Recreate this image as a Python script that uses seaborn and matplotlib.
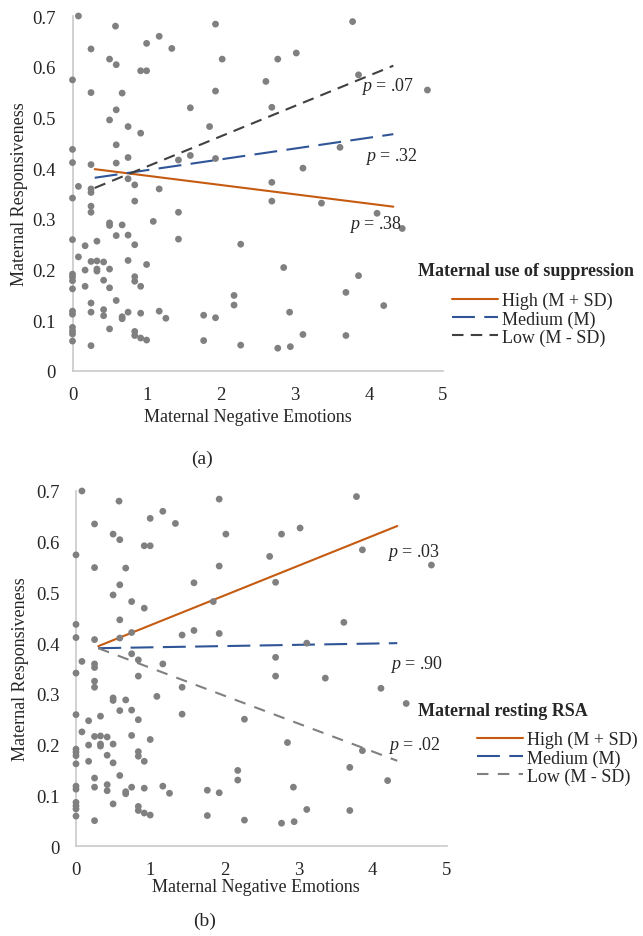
import pandas as pd
import matplotlib
matplotlib.use('Agg')
import matplotlib.pyplot as plt
import seaborn as sns

# observed data (same points in both panels)
neg_emotions = [
    0.08, 0.58, 0.25, 1.17, 1.00, 1.34, 0.50, 0.59, 0.92, 1.00,
    0.00, 0.25, 0.67, 1.59, 0.59, 0.50, 0.75, 0.92, 1.85, 0.59,
    0.00, 0.00, 0.25, 0.59, 0.75, 1.43, 1.59, 0.75, 0.84, 0.08,
    0.25, 0.25, 1.17, 0.00, 1.93, 2.02, 1.93, 3.78, 2.77, 3.02,
    2.61, 3.86, 4.79, 2.69, 1.93, 3.61, 3.11, 2.69, 2.69, 3.36,
    4.11, 4.45, 2.27, 2.85, 3.86, 2.18, 2.18, 3.69, 1.77, 1.93,
    2.93, 4.20, 1.77, 2.27, 2.77, 2.94, 3.11, 3.69, 0.84, 0.25,
    0.25, 1.43, 1.09, 0.50, 0.50, 0.67, 0.59, 0.75, 0.00, 1.43,
    0.33, 0.84, 0.17, 0.08, 0.25, 0.33, 0.42, 0.75, 1.00, 0.17,
    0.33, 0.33, 0.50, 0.00, 0.00, 0.00, 0.00, 0.84, 0.84, 0.42,
    0.92, 0.17, 0.50, 0.59, 0.25, 0.00, 0.00, 0.25, 0.42, 0.42,
    0.67, 0.67, 0.75, 0.92, 1.17, 1.26, 0.00, 0.00, 0.00, 0.00,
    0.50, 0.84, 0.84, 0.92, 1.00, 0.25,
]
responsiveness = [
    0.700, 0.680, 0.635, 0.660, 0.646, 0.636, 0.615, 0.604, 0.592, 0.592,
    0.574, 0.549, 0.548, 0.519, 0.515, 0.495, 0.482, 0.469, 0.482, 0.446,
    0.437, 0.411, 0.407, 0.410, 0.421, 0.416, 0.425, 0.379, 0.367, 0.364,
    0.359, 0.352, 0.359, 0.341, 0.684, 0.615, 0.552, 0.689, 0.615, 0.627,
    0.571, 0.584, 0.554, 0.520, 0.419, 0.441, 0.400, 0.372, 0.335, 0.331,
    0.311, 0.281, 0.250, 0.204, 0.188, 0.149, 0.130, 0.155, 0.110, 0.105,
    0.116, 0.129, 0.060, 0.051, 0.045, 0.048, 0.072, 0.070, 0.335, 0.325,
    0.313, 0.313, 0.295, 0.292, 0.287, 0.288, 0.267, 0.268, 0.259, 0.260,
    0.256, 0.249, 0.247, 0.225, 0.216, 0.217, 0.215, 0.218, 0.210, 0.199,
    0.201, 0.197, 0.201, 0.191, 0.185, 0.178, 0.162, 0.186, 0.177, 0.179,
    0.167, 0.167, 0.164, 0.139, 0.134, 0.118, 0.112, 0.116, 0.121, 0.109,
    0.107, 0.103, 0.116, 0.114, 0.118, 0.104, 0.086, 0.079, 0.073, 0.059,
    0.083, 0.078, 0.070, 0.065, 0.061, 0.050,
]

# simple slopes
line_x = [0.3, 4.33]
levels = ['High (M + SD)', 'Medium (M)', 'Low (M - SD)']
supp_high = [0.398, 0.324]
supp_medium = [0.381, 0.467]
supp_low = [0.361, 0.602]
rsa_high = [0.394, 0.631]
rsa_medium = [0.390, 0.400]
rsa_low = [0.390, 0.168]

supp_p = ['.38', '.32', '.07']
rsa_p = ['.03', '.90', '.02']

ORANGE = '#C55A11'
BLUE = '#2F5597'
POINT = '#808080'
SPINE = '#C9C9C9'

sns.set_theme(style='white')
plt.rcParams['font.family'] = ['Liberation Serif', 'DejaVu Serif']
plt.rcParams['mathtext.fontset'] = 'custom'
plt.rcParams['mathtext.rm'] = 'Liberation Serif'
plt.rcParams['mathtext.it'] = 'Liberation Serif:italic'


def slopes_frame(high, medium, low):
    rows = []
    for lvl, vals in zip(levels, [high, medium, low]):
        for x, y in zip(line_x, vals):
            rows.append({'x': x, 'y': y, 'level': lvl})
    return pd.DataFrame(rows)


def draw_panel(ax, df, low_color, low_dash, p_texts, p_pos):
    sns.scatterplot(x=neg_emotions, y=responsiveness, color=POINT, s=24,
                    edgecolor='none', ax=ax, clip_on=False, zorder=3)
    palette = {levels[0]: ORANGE, levels[1]: BLUE, levels[2]: low_color}
    dashes = {levels[0]: '', levels[1]: (11, 4.5), levels[2]: low_dash}
    sns.lineplot(data=df, x='x', y='y', hue='level', style='level',
                 palette=palette, dashes=dashes, linewidth=1.5, ax=ax, zorder=2)
    for txt, (px, py) in zip(p_texts, p_pos):
        ax.text(px, py, r'$p$ = ' + txt, fontsize=13, va='center', ha='left')

    ax.set_xlim(0, 5)
    ax.set_ylim(0, 0.7)
    ax.set_xticks([0, 1, 2, 3, 4, 5])
    ax.set_yticks([0, 0.1, 0.2, 0.3, 0.4, 0.5, 0.6, 0.7])
    ax.set_yticklabels(['0', '0.1', '0.2', '0.3', '0.4', '0.5', '0.6', '0.7'])
    ax.tick_params(axis='both', length=0, labelsize=13.5)
    ax.tick_params(axis='x', pad=11)
    ax.tick_params(axis='y', pad=12)
    for side in ['top', 'right']:
        ax.spines[side].set_visible(False)
    for side in ['left', 'bottom']:
        ax.spines[side].set_color(SPINE)
        ax.spines[side].set_linewidth(1.2)
    ax.set_ylabel('Maternal Responsiveness', fontsize=13)
    ax.set_xlabel('Maternal Negative Emotions', fontsize=13)
    ax.xaxis.label.set_va('center')
    ax.yaxis.label.set_va('center')


fig = plt.figure(figsize=(6.43, 9.37), dpi=100)
W, H = 643, 937

# panel (a)
ax1 = fig.add_axes([72.5 / W, 1 - 372 / H, 370.5 / W, 355 / H])
draw_panel(ax1, slopes_frame(supp_high, supp_medium, supp_low), '#404040', (5.5, 3.5),
           supp_p, [(3.73, 0.29), (3.95, 0.424), (3.90, 0.562)])
ax1.xaxis.set_label_coords((248 - 72.5) / 370.5, (372 - 418) / 355)
ax1.yaxis.set_label_coords((20 - 72.5) / 370.5, 0.5)
h, l = ax1.get_legend_handles_labels()
ax1.legend(h, l, loc='upper left', bbox_to_anchor=(452 / W, 1 - 293 / H),
           bbox_transform=fig.transFigure, frameon=False, fontsize=13,
           borderpad=0, borderaxespad=0, labelspacing=0.05,
           handlelength=2.55, handletextpad=0.2)
fig.text(418 / W, 1 - 271 / H, 'Maternal use of suppression', fontsize=13,
         fontweight='bold', ha='left', va='center')
fig.text(202 / W, 1 - 459 / H, '(a)', fontsize=14, ha='center', va='center')

# panel (b)
ax2 = fig.add_axes([76 / W, 1 - 847 / H, 371 / W, 355 / H])
draw_panel(ax2, slopes_frame(rsa_high, rsa_medium, rsa_low), '#808080', (5.5, 4.5),
           rsa_p, [(4.19, 0.58), (4.23, 0.359), (4.21, 0.201)])
ax2.xaxis.set_label_coords((256 - 76) / 371, (847 - 888) / 355)
ax2.yaxis.set_label_coords((20 - 76) / 371, 0.5)
h, l = ax2.get_legend_handles_labels()
ax2.legend(h, l, loc='upper left', bbox_to_anchor=(477 / W, 1 - 732 / H),
           bbox_transform=fig.transFigure, frameon=False, fontsize=13,
           borderpad=0, borderaxespad=0, labelspacing=0.05,
           handlelength=2.55, handletextpad=0.2)
fig.text(418 / W, 1 - 712 / H, 'Maternal resting RSA', fontsize=13,
         fontweight='bold', ha='left', va='center')
fig.text(205 / W, 1 - 921 / H, '(b)', fontsize=14, ha='center', va='center')

fig.savefig('out.png', dpi=100, facecolor='white')
plt.close()
